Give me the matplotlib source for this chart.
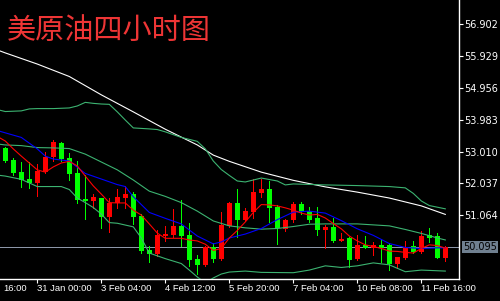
import matplotlib
matplotlib.use('Agg')
import matplotlib.pyplot as plt
import matplotlib.transforms as mtransforms

plt.rcParams['font.family'] = ['DejaVu Sans']

title = '美原油四小时图'

# 4h candles, oldest first
opens = [53.13, 52.75, 52.38, 52.17, 52.06, 52.39, 52.85, 53.26, 52.80, 52.36,
         51.56, 51.50, 51.58, 51.02, 51.43, 51.58, 51.71, 51.05, 50.00, 49.87,
         50.44, 50.46, 50.74, 50.46, 49.73, 49.55, 50.09, 49.73, 50.74, 51.43,
         50.92, 51.15, 51.75, 51.87, 51.32, 50.64, 50.92, 51.41, 51.20, 50.99,
         50.61, 50.71, 50.28, 50.36, 49.73, 50.16, 50.05, 50.16, 50.16, 49.57,
         49.75, 50.13, 49.93, 50.46, 50.43, 49.77]
highs = [53.16, 52.82, 52.70, 52.70, 52.63, 52.99, 53.36, 53.31, 52.96, 52.72,
         52.29, 51.71, 51.60, 51.60, 51.87, 51.96, 51.78, 51.09, 50.13, 50.60,
         50.74, 51.25, 51.52, 50.83, 49.85, 50.13, 50.21, 51.15, 51.46, 51.87,
         51.29, 52.17, 52.17, 52.11, 51.38, 50.95, 51.46, 51.46, 51.33, 51.33,
         50.77, 50.97, 50.51, 50.41, 50.46, 50.43, 50.26, 50.34, 50.21, 49.79,
         50.28, 50.28, 50.58, 50.67, 50.51, 50.13]
lows = [52.69, 52.29, 51.94, 51.90, 51.66, 52.36, 52.72, 52.72, 52.14, 51.45,
        50.95, 51.29, 50.68, 50.56, 51.29, 51.29, 50.80, 49.90, 49.63, 49.83,
        50.28, 50.41, 50.13, 49.52, 49.27, 49.52, 49.63, 49.70, 50.71, 50.41,
        50.89, 50.99, 51.63, 50.85, 50.19, 50.58, 50.87, 51.09, 50.87, 50.46,
        50.07, 50.24, 50.28, 49.49, 49.70, 50.07, 49.85, 49.65, 49.39, 49.44,
        49.73, 49.90, 49.90, 50.26, 49.75, 49.67]
closes = [52.72, 52.34, 52.14, 52.06, 52.41, 52.85, 53.31, 52.78, 52.32, 51.53,
          51.50, 51.63, 51.02, 51.45, 51.63, 51.71, 51.02, 49.97, 49.87, 50.46,
          50.49, 50.74, 50.44, 49.71, 49.55, 50.09, 49.73, 50.77, 51.43, 50.92,
          51.19, 51.76, 51.87, 51.29, 50.67, 50.92, 51.41, 51.15, 50.92, 50.61,
          50.71, 50.28, 50.35, 49.70, 50.16, 50.07, 50.16, 50.07, 49.57, 49.79,
          50.10, 49.95, 50.44, 50.36, 49.77, 50.10]

# indicator lines: bar index -> value
white_bars = [-1, 0, 4, 8, 12, 16, 20, 24, 26, 28, 32, 36, 40, 44, 48, 52, 55]
white_vals = [56.11, 56.02, 55.68, 55.30, 54.74, 54.22, 53.69, 53.21, 52.90, 52.71,
              52.38, 52.13, 51.93, 51.77, 51.59, 51.35, 51.09]

upper_bars = [-1, 0, 2, 3, 4, 6, 8, 9, 10, 11, 12, 13, 14, 15, 16, 18, 19, 20, 22, 24,
              25, 26, 27, 28, 29, 30, 32, 34, 35, 36, 40, 44, 48, 50, 51, 52, 53, 54, 55]
upper_vals = [54.29, 54.23, 54.25, 54.31, 54.32, 54.32, 54.34, 54.40, 54.51, 54.48,
              54.46, 54.45, 54.22, 53.97, 53.73, 53.70, 53.68, 53.61, 53.44, 53.32,
              53.09, 52.72, 52.46, 52.28, 52.11, 52.08, 52.20, 52.11, 51.99, 52.02,
              51.99, 51.97, 51.94, 51.90, 51.73, 51.50, 51.36, 51.31, 51.26]

middle_bars = [-1, 0, 2, 4, 6, 8, 10, 12, 14, 16, 18, 20, 22, 24, 26, 28, 30, 32, 34, 36,
               38, 40, 44, 48, 50, 52, 54, 55]
middle_vals = [53.24, 53.21, 53.19, 53.13, 53.12, 53.10, 52.93, 52.69, 52.45, 52.14,
               51.80, 51.64, 51.45, 51.19, 50.89, 50.74, 50.68, 50.64, 50.66, 50.72,
               50.79, 50.80, 50.80, 50.74, 50.63, 50.51, 50.37, 50.31]

lower_bars = [-1, 0, 2, 4, 6, 7, 8, 9, 10, 11, 12, 13, 14, 16, 17, 18, 20, 22, 23, 24,
              25, 26, 27, 28, 30, 32, 36, 38, 40, 42, 44, 46, 48, 50, 52, 54, 55]
lower_vals = [52.29, 52.26, 52.16, 51.94, 51.94, 51.94, 51.85, 51.59, 51.45, 51.30,
              51.10, 50.84, 50.82, 50.71, 50.37, 49.91, 49.74, 49.59, 49.39, 49.18,
              49.00, 49.15, 49.27, 49.33, 49.36, 49.32, 49.31, 49.39, 49.52, 49.47,
              49.52, 49.61, 49.55, 49.34, 49.39, 49.37, 49.36]

blue_bars = [-1, 0, 2, 4, 5, 6, 8, 10, 12, 14, 15, 16, 18, 20, 22, 24, 26, 27, 28, 30,
             32, 34, 36, 38, 40, 42, 44, 46, 48, 50, 52, 54, 55]
blue_vals = [53.65, 53.58, 53.44, 53.09, 52.87, 52.78, 52.72, 52.34, 52.17, 52.00,
             51.94, 51.63, 51.15, 50.97, 50.80, 50.43, 50.19, 50.25, 50.37, 50.49,
             50.66, 50.93, 51.16, 51.19, 51.13, 50.90, 50.65, 50.45, 50.20, 50.08,
             50.05, 50.07, 50.07]

red_bars = list(range(-1, 56))
red_vals = [53.47, 53.33, 53.09, 52.87, 52.66, 52.45, 52.38, 52.54, 52.66, 52.71, 52.57,
            52.26, 51.96, 51.71, 51.45, 51.44, 51.44, 51.22, 51.07, 50.80, 50.52,
            50.36, 50.36, 50.36, 50.31, 50.28, 50.18, 49.99, 50.05, 50.37, 50.60,
            50.86, 51.15, 51.39, 51.38, 51.35, 51.29, 51.22, 51.13, 51.07, 51.09,
            50.98, 50.81, 50.65, 50.43, 50.28, 50.16, 50.11, 50.05, 49.97, 49.96,
            49.93, 49.91, 50.05, 50.16, 50.14, 50.06]

time_label_bars = [-0.25, 4, 12, 20, 28, 36, 44, 52]
time_labels = ['16:00', '31 Jan 00:00', '3 Feb 04:00', '4 Feb 12:00', '5 Feb 20:00',
               '7 Feb 04:00', '10 Feb 08:00', '11 Feb 16:00']

price_ticks = [56.902, 55.929, 54.956, 53.983, 53.010, 52.037, 51.064]
last_price = 50.095

fig = plt.figure(figsize=(5, 3.01), dpi=100, facecolor='black')
ax = fig.add_axes([0, 22 / 301, 459 / 500, 279 / 301])
ax.set_facecolor('black')
ax.set_xlim(-0.66, 56.71)
ax.set_ylim(49.118, 57.635)

px = 0.72  # one pixel in points

# bid line
ax.axhline(last_price, color='#8c96a8', lw=px, zorder=1, antialiased=False)

# candles (red = up, green = down)
for i in range(len(opens)):
    o, h, l, c = opens[i], highs[i], lows[i], closes[i]
    col = '#ff0000' if c >= o else '#00ff00'
    ax.vlines(i, l, h, color=col, lw=px, zorder=2, antialiased=False)
    ax.bar(i, max(abs(c - o), 0.03), bottom=min(o, c), width=0.64,
           color=col, lw=0, zorder=3, antialiased=False)

# moving averages and bands
ax.plot(white_bars, white_vals, color='#ffffff', lw=0.8, zorder=4)
for bars, vals in [(upper_bars, upper_vals), (middle_bars, middle_vals), (lower_bars, lower_vals)]:
    ax.plot(bars, vals, color='#3cb371', lw=0.8, zorder=4)
ax.plot(blue_bars, blue_vals, color='#0000ff', lw=0.8, zorder=5)
ax.plot(red_bars, red_vals, color='#ff0000', lw=0.8, zorder=6)

# frame
for side in ['left', 'top']:
    ax.spines[side].set_visible(False)
for side in ['right', 'bottom']:
    ax.spines[side].set_color('white')
    ax.spines[side].set_linewidth(1.0)

ax.yaxis.tick_right()
ax.set_yticks(price_ticks)
ax.set_yticklabels(['%.3f' % p for p in price_ticks])
ax.tick_params(axis='y', colors='white', labelsize=7, length=3, width=0.8, pad=0.8)

ax.set_xticks(time_label_bars)
ax.set_xticklabels(time_labels, family=['Liberation Sans', 'DejaVu Sans'])
for lab in ax.get_xticklabels():
    lab.set_ha('left')
ax.tick_params(axis='x', colors='white', labelsize=6.8, length=2.7, width=0.8, pad=1.0)
ax.xaxis.get_major_ticks()[0].tick1line.set_visible(False)

# current price box
trans = mtransforms.blended_transform_factory(ax.transAxes, ax.transData)
ax.text(1.0 + 4 / 459, last_price, '%.3f' % last_price, transform=trans,
        ha='left', va='center', fontsize=7, color='black', clip_on=False,
        bbox=dict(boxstyle='square,pad=0.12', fc='#708090', ec='none'))

fig.text(7 / 500, 1 - 39 / 301, title, color='#ee3535', fontsize=21,
         family=['Noto Sans CJK SC', 'DejaVu Sans'], ha='left', va='baseline')

fig.savefig('out.png', dpi=100, facecolor='black')
